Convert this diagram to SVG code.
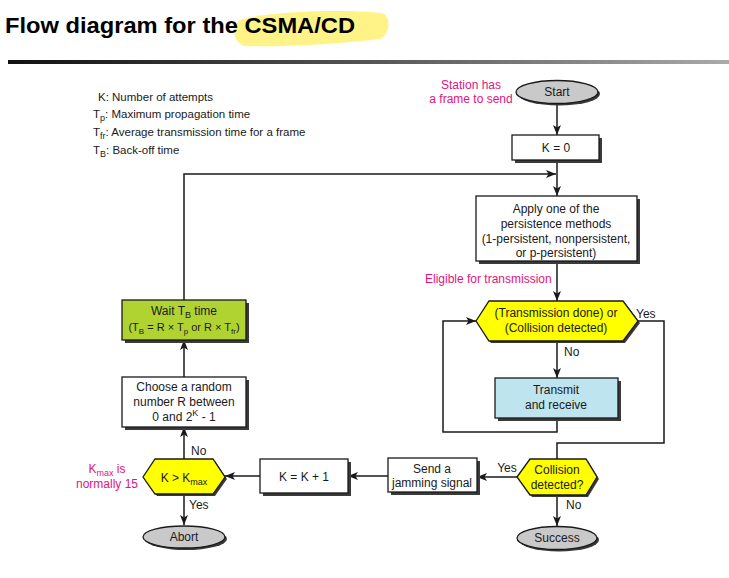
<svg xmlns="http://www.w3.org/2000/svg" width="729" height="578" viewBox="0 0 729 578">
<defs>
<linearGradient id="rule" x1="0" y1="0" x2="1" y2="0">
<stop offset="0" stop-color="#111"/>
<stop offset="0.5" stop-color="#555"/>
<stop offset="1" stop-color="#aaa"/>
</linearGradient>
<marker id="ah" markerWidth="10" markerHeight="8" refX="10" refY="4" orient="auto" markerUnits="userSpaceOnUse">
<path d="M0,0 L10,4 L0,8 L2.5,4 z" fill="#1a1a1a"/>
</marker>
<style>
.t{font-family:"Liberation Sans",Arial,sans-serif;font-size:12px;fill:#1a1a1a}
.l{font-size:11.5px}
.c{text-anchor:middle}
.m{fill:#e0147e}
.box{stroke:#1a1a1a;stroke-width:1.3}
.sh{fill:#3a3a3a}
.ln{fill:none;stroke:#1a1a1a;stroke-width:1.5}
.sub{font-size:9px}
</style>
</defs>
<rect width="729" height="578" fill="#fff"/>
<!-- title -->
<path d="M240,20 C270,11 340,9 382,13 C392,17 390,34 380,39 C330,45 280,47 244,46 C233,42 231,27 240,20 z" fill="#fff27a" opacity="0.9"/>
<text x="5" y="33" textLength="350" lengthAdjust="spacingAndGlyphs" style="font-family:'Liberation Sans',Arial,sans-serif;font-weight:bold;font-size:22px;fill:#000">Flow diagram for the CSMA/CD</text>
<rect x="8" y="60" width="721" height="4" fill="url(#rule)"/>
<!-- legend -->
<g id="legend">
<text class="t l" x="98" y="101">K: Number of attempts</text>
<text class="t l" x="93" y="118">T<tspan class="sub" dy="3">p</tspan><tspan dy="-3">: Maximum propagation time</tspan></text>
<text class="t l" x="93" y="136">T<tspan class="sub" dy="3">fr</tspan><tspan dy="-3">: Average transmission time for a frame</tspan></text>
<text class="t l" x="93" y="154">T<tspan class="sub" dy="3">B</tspan><tspan dy="-3">: Back-off time</tspan></text>
</g>
<!-- connectors -->
<g id="connectors">
<path class="ln" d="M557,104 V135" marker-end="url(#ah)"/>
<path class="ln" d="M557,160 V196" marker-end="url(#ah)"/>
<path class="ln" d="M184,300 V174 H556" marker-end="url(#ah)"/>
<path class="ln" d="M557,262 V301" marker-end="url(#ah)"/>
<path class="ln" d="M557,341 V378" marker-end="url(#ah)"/>
<path class="ln" d="M557,418 V432 H443 V321 H476" marker-end="url(#ah)"/>
<path class="ln" d="M637,321 H664 V443 H557 V459"/>
<path class="ln" d="M557,495 V526" marker-end="url(#ah)"/>
<path class="ln" d="M517,477 H477" marker-end="url(#ah)"/>
<path class="ln" d="M388,476 H348" marker-end="url(#ah)"/>
<path class="ln" d="M260,476 H225" marker-end="url(#ah)"/>
<path class="ln" d="M184,459 V427" marker-end="url(#ah)"/>
<path class="ln" d="M184,377 V340" marker-end="url(#ah)"/>
<path class="ln" d="M184,494 V525" marker-end="url(#ah)"/>
<text class="t" x="564" y="356">No</text>
<text class="t" x="636" y="318">Yes</text>
<text class="t c" x="507" y="472">Yes</text>
<text class="t" x="566" y="509">No</text>
<text class="t" x="191" y="455">No</text>
<text class="t" x="189" y="509">Yes</text>
</g>
<!-- annotations -->
<g id="notes">
<text class="t c m" x="471" y="89">Station has</text>
<text class="t c m" x="471" y="103">a frame to send</text>
<text class="t m" x="425" y="283">Eligible for transmission</text>
<text class="t c m" x="107" y="473">K<tspan class="sub" dy="3">max</tspan><tspan dy="-3"> is</tspan></text>
<text class="t c m" x="107" y="488">normally 15</text>
</g>
<!-- nodes -->
<g id="start">
<ellipse cx="559" cy="94" rx="41" ry="11.5" class="sh"/>
<ellipse cx="557" cy="92" rx="41" ry="11.5" fill="#c9c9c9" class="box"/>
<text class="t c" x="557" y="96">Start</text>
</g>
<g id="k0">
<rect x="515" y="138" width="87" height="25" class="sh"/>
<rect x="512" y="135" width="87" height="25" fill="#fff" class="box"/>
<text class="t c" x="556" y="152">K = 0</text>
</g>
<g id="persist">
<rect x="479" y="199" width="161" height="65" class="sh"/>
<rect x="476" y="196" width="161" height="65" fill="#fff" class="box"/>
<text class="t c" x="556" y="213">Apply one of the</text>
<text class="t c" x="556" y="228">persistence methods</text>
<text class="t c" x="556" y="243">(1-persistent, nonpersistent,</text>
<text class="t c" x="556" y="257">or p-persistent)</text>
</g>
<g id="txdone">
<polygon points="478,323 491,303 625,303 640,323 625,343 491,343" class="sh"/>
<polygon points="476,321 489,301 623,301 638,321 623,341 489,341" fill="#ffff00" class="box"/>
<text class="t c" x="556" y="317">(Transmission done) or</text>
<text class="t c" x="556" y="332">(Collision detected)</text>
</g>
<g id="transmit">
<rect x="498" y="381" width="123" height="40" class="sh"/>
<rect x="495" y="378" width="123" height="40" fill="#bde4ef" class="box"/>
<text class="t c" x="556" y="394">Transmit</text>
<text class="t c" x="556" y="409">and receive</text>
</g>
<g id="collision">
<polygon points="519,479 532,461 588,461 599,479 588,497 532,497" class="sh"/>
<polygon points="517,477 530,459 586,459 597,477 586,495 530,495" fill="#ffff00" class="box"/>
<text class="t c" x="557" y="474">Collision</text>
<text class="t c" x="557" y="489">detected?</text>
</g>
<g id="success">
<ellipse cx="559" cy="540" rx="40" ry="11.5" class="sh"/>
<ellipse cx="557" cy="538" rx="40" ry="11.5" fill="#c9c9c9" class="box"/>
<text class="t c" x="557" y="542">Success</text>
</g>
<g id="jam">
<rect x="391" y="461" width="89" height="34" class="sh"/>
<rect x="388" y="458" width="89" height="34" fill="#fff" class="box"/>
<text class="t c" x="432" y="473">Send a</text>
<text class="t c" x="432" y="487">jamming signal</text>
</g>
<g id="kinc">
<rect x="263" y="462" width="88" height="34" class="sh"/>
<rect x="260" y="459" width="88" height="34" fill="#fff" class="box"/>
<text class="t c" x="304" y="481">K = K + 1</text>
</g>
<g id="kmax">
<polygon points="145,479 157,461 215,461 227,479 215,496 157,496" class="sh"/>
<polygon points="143,477 155,459 213,459 225,477 213,494 155,494" fill="#ffff00" class="box"/>
<text class="t c" x="184" y="482">K &gt; K<tspan class="sub" dy="3">max</tspan></text>
</g>
<g id="abort">
<ellipse cx="186" cy="539" rx="41" ry="11" class="sh"/>
<ellipse cx="184" cy="537" rx="41" ry="11" fill="#c9c9c9" class="box"/>
<text class="t c" x="184" y="541">Abort</text>
</g>
<g id="random">
<rect x="125" y="380" width="124" height="50" class="sh"/>
<rect x="122" y="377" width="124" height="50" fill="#fff" class="box"/>
<text class="t c" x="184" y="391">Choose a random</text>
<text class="t c" x="184" y="406">number R between</text>
<text class="t c" x="184" y="421">0 and 2<tspan class="sub" dy="-5">K</tspan><tspan dy="5"> - 1</tspan></text>
</g>
<g id="wait">
<rect x="125" y="303" width="124" height="40" class="sh"/>
<rect x="122" y="300" width="124" height="40" fill="#b0d332" class="box"/>
<text class="t c" x="184" y="315">Wait T<tspan class="sub" dy="3">B</tspan><tspan dy="-3"> time</tspan></text>
<text class="t c" x="184" y="331" style="font-size:11px">(T<tspan class="sub" style="font-size:8px" dy="3">B</tspan><tspan dy="-3"> = R × T</tspan><tspan class="sub" style="font-size:8px" dy="3">p</tspan><tspan dy="-3"> or R × T</tspan><tspan class="sub" style="font-size:8px" dy="3">fr</tspan><tspan dy="-3">)</tspan></text>
</g>
</svg>
